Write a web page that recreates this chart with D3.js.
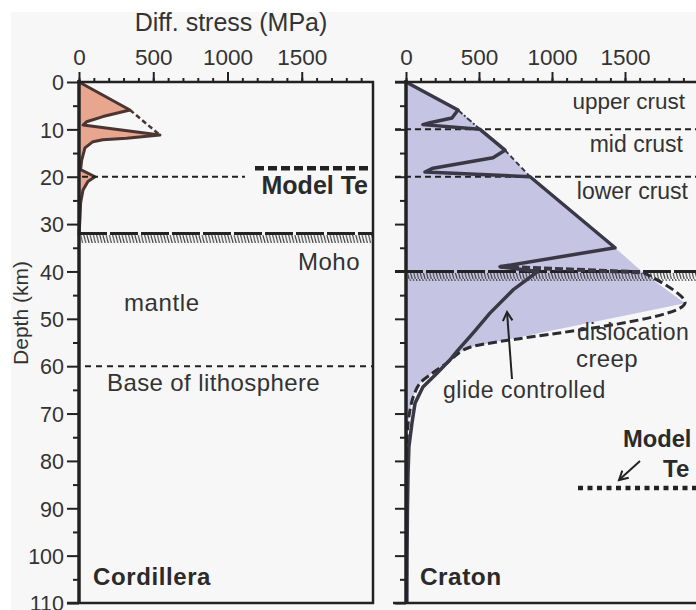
<!DOCTYPE html>
<html><head><meta charset="utf-8">
<script src="https://cdn.jsdelivr.net/npm/d3@7"></script>
<style>body{margin:0;background:#fff}svg{display:block;font-family:"Liberation Sans",Arial,sans-serif}</style>
</head><body><svg id="c" width="696" height="610"></svg>
<script>
// ---------- data ----------
const stressTicks = [0, 500, 1000, 1500];
const stressMinor = [0,100,200,300,400,500,600,700,800,900,1000,1100,1200,1300,1400,1500,1600,1700,1800,1900];
const depthTicks = [0,10,20,30,40,50,60,70,80,90,100,110];
const depthMinor = [5,15,25,35,45,55,65,75,85,95,105];

// Cordillera strength profile (MPa, km)
const cordStress = [0, 343, 161, 51, 27, 545, 320, 161, 94, 40, 18, 11, 108, 60, 27, 11, 7, 0];
const cordDepth  = [0, 5.9, 7.3, 8.4, 9.1, 11.2, 11.9, 12.2, 12.6, 13.9, 16.5, 18.5, 20.0, 21.0, 22.8, 25.5, 28.5, 32.5];
const cordEnvStress = [343, 545];
const cordEnvDepth  = [5.9, 11.2];

// Craton strength profile: solid (glide-controlled in mantle)
const cratStress = [0, 356, 315, 164, 116, 507, 678, 596, 390, 185, 130, 850, 1432, 644, 904, 733, 575, 459, 356, 300, 212, 116, 62, 41, 20, 14, 10, 7, 6];
const cratDepth  = [0, 5.9, 7.6, 8.6, 9.0, 10.0, 14.4, 16.0, 17.1, 18.2, 19.0, 20.0, 35.0, 39.0, 40.0, 43.9, 48.8, 53.0, 56.6, 58.7, 61.5, 64.4, 67.8, 72.0, 77.0, 82.6, 90, 100, 110];
// envelope continuations
const env1Stress = [356, 507];  const env1Depth = [5.9, 10.0];
const env2Stress = [678, 850];  const env2Depth = [14.4, 20.0];
const env3Stress = [644, 1623]; const env3Depth = [39.0, 40.2];
// dislocation creep envelope
const dislStress = [1623, 1911, 438, 370, 281, 180, 96, 55, 27, 12, 5];
const dislDepth  = [40.2, 46.7, 56.0, 57.0, 59.3, 61.5, 63.6, 66.0, 69.3, 73.0, 78.0];
// outer envelope of the craton fill (crust peaks)
const cratEnvStress = [0, 356, 507, 678, 850, 1432, 1623];
const cratEnvDepth  = [0, 5.9, 10.0, 14.4, 20.0, 35.0, 40.2];

// reference depths
const cordMoho = 32, cratMoho = 40, cordLith = 60, cordTe = 18.2, cratTe = 85.7;
const cordHoriz = 20, cratLayers = [10, 20];

// ---------- setup ----------
const svg = d3.select('#c');
svg.append('rect').attr('x',11).attr('y',12).attr('width',685).attr('height',598).attr('fill','#f7f7f7');

const defs = svg.append('defs');
const pat = defs.append('pattern').attr('id','hatch').attr('patternUnits','userSpaceOnUse')
  .attr('width',3.2).attr('height',9);
pat.append('line').attr('x1',0.3).attr('y1',0).attr('x2',2.6).attr('y2',9)
  .attr('stroke','#3a3a3a').attr('stroke-width',1.1);

const y = d3.scaleLinear().domain([0,110]).range([82,603]);
const xL = d3.scaleLinear().domain([0,2000]).range([79,376]);
const xR = d3.scaleLinear().domain([0,2000]).range([406,698]);

const zip = (a,b) => a.map((v,i)=>[v,b[i]]);
const lineFn = x => d3.line().x(d=>x(d[0])).y(d=>y(d[1]));

const ink = '#333';
const txt = (x0,y0,s,opt={}) => svg.append('text').attr('x',x0).attr('y',y0).text(s)
  .attr('font-size',opt.size||22).attr('font-weight',opt.bold?'bold':'normal')
  .attr('text-anchor',opt.anchor||'start').attr('fill',opt.fill||ink)
  .attr('letter-spacing',opt.ls||0);

// ---------- Cordillera panel ----------
const cordPts = zip(cordStress, cordDepth);
svg.append('path').attr('d', lineFn(xL)([...cordPts, [0, cordDepth[cordDepth.length-1]]]))
  .attr('fill','#e9a68e').attr('stroke','none');
svg.append('path').attr('d', lineFn(xL)(cordPts))
  .attr('fill','none').attr('stroke','#4a3532').attr('stroke-width',3).attr('stroke-linejoin','round');
svg.append('path').attr('d', lineFn(xL)(zip(cordEnvStress,cordEnvDepth)))
  .attr('fill','none').attr('stroke','#4a3532').attr('stroke-width',2.5).attr('stroke-dasharray','5,3');

// horizontal references
svg.append('line').attr('x1',82).attr('x2',245).attr('y1',y(cordHoriz)).attr('y2',y(cordHoriz))
  .attr('stroke','#222').attr('stroke-width',2).attr('stroke-dasharray','6,4');
svg.append('line').attr('x1',255).attr('x2',371).attr('y1',y(cordTe)).attr('y2',y(cordTe))
  .attr('stroke','#222').attr('stroke-width',4.5).attr('stroke-dasharray','9,4');
svg.append('line').attr('x1',85).attr('x2',373).attr('y1',y(cordLith)).attr('y2',y(cordLith))
  .attr('stroke','#222').attr('stroke-width',2).attr('stroke-dasharray','6,5');
// Moho
svg.append('rect').attr('x',81).attr('y',y(cordMoho)+1.5).attr('width',292).attr('height',8).attr('fill','url(#hatch)');
svg.append('line').attr('x1',79).attr('x2',373).attr('y1',y(cordMoho)).attr('y2',y(cordMoho))
  .attr('stroke','#222').attr('stroke-width',3).attr('stroke-dasharray','28,3');

// axes
const gTopL = svg.append('g').attr('transform','translate(0,82)');
gTopL.call(d3.axisTop(xL).tickValues(stressMinor).tickSize(4).tickFormat(''));
gTopL.append('g').call(d3.axisTop(xL).tickValues(stressTicks).tickSize(10).tickFormat(d3.format('d')));
const gLeft = svg.append('g').attr('transform','translate(79,0)');
gLeft.call(d3.axisLeft(y).tickValues(depthMinor).tickSize(6).tickFormat(''));
gLeft.append('g').call(d3.axisLeft(y).tickValues(depthTicks).tickSize(12).tickFormat(d3.format('d')));

// frame
svg.append('line').attr('x1',77).attr('x2',374).attr('y1',82).attr('y2',82).attr('stroke','#222').attr('stroke-width',2.5);
svg.append('line').attr('x1',373).attr('x2',373).attr('y1',81).attr('y2',604).attr('stroke','#222').attr('stroke-width',2.5);
svg.append('line').attr('x1',67).attr('x2',374).attr('y1',603).attr('y2',603).attr('stroke','#222').attr('stroke-width',2.5);
svg.append('line').attr('x1',79).attr('x2',79).attr('y1',80).attr('y2',604).attr('stroke','#222').attr('stroke-width',3.5);

// ---------- Craton panel ----------
const envPoly = [...zip(cratEnvStress,cratEnvDepth), ...zip(dislStress,dislDepth).slice(1), [0, dislDepth[dislDepth.length-1]]];
svg.append('path').attr('d', lineFn(xR)(envPoly)).attr('fill','#c5c4e2').attr('stroke','none');

// layer lines
cratLayers.forEach(d => svg.append('line').attr('x1',395).attr('x2',696).attr('y1',y(d)).attr('y2',y(d))
  .attr('stroke','#222').attr('stroke-width',2).attr('stroke-dasharray','6,4'));
// Moho
svg.append('rect').attr('x',408).attr('y',y(cratMoho)+1.5).attr('width',290).attr('height',8).attr('fill','url(#hatch)');
svg.append('line').attr('x1',395).attr('x2',696).attr('y1',y(cratMoho)).attr('y2',y(cratMoho))
  .attr('stroke','#222').attr('stroke-width',3).attr('stroke-dasharray','28,3');

const curveCol = '#3b3846';
svg.append('path').attr('d', lineFn(xR)(zip(env1Stress,env1Depth)))
  .attr('fill','none').attr('stroke',curveCol).attr('stroke-width',2).attr('stroke-dasharray','6,2,2,2');
svg.append('path').attr('d', lineFn(xR)(zip(env2Stress,env2Depth)))
  .attr('fill','none').attr('stroke',curveCol).attr('stroke-width',2).attr('stroke-dasharray','5,3');
svg.append('path').attr('d', lineFn(xR)(zip(env3Stress,env3Depth)))
  .attr('fill','none').attr('stroke',curveCol).attr('stroke-width',4).attr('stroke-dasharray','8,3');
svg.append('path').attr('d', d3.line().x(d=>xR(d[0])).y(d=>y(d[1])).curve(d3.curveCatmullRom)(zip(dislStress,dislDepth)))
  .attr('fill','none').attr('stroke','#2b2b33').attr('stroke-width',3).attr('stroke-dasharray','9,4');
svg.append('path').attr('d', lineFn(xR)(zip(cratStress,cratDepth)))
  .attr('fill','none').attr('stroke',curveCol).attr('stroke-width',3.5).attr('stroke-linejoin','round');

// Model Te (craton)
svg.append('line').attr('x1',578).attr('x2',696).attr('y1',y(cratTe)).attr('y2',y(cratTe))
  .attr('stroke','#222').attr('stroke-width',4.5).attr('stroke-dasharray','5,4.5');

// axes
const gTopR = svg.append('g').attr('transform','translate(0,82)');
gTopR.call(d3.axisTop(xR).tickValues(stressMinor).tickSize(4).tickFormat(''));
gTopR.append('g').call(d3.axisTop(xR).tickValues(stressTicks).tickSize(10).tickFormat(d3.format('d')));
const gRight = svg.append('g').attr('transform','translate(406,0)');
gRight.call(d3.axisLeft(y).tickValues(depthMinor).tickSize(6).tickFormat(''));
gRight.append('g').call(d3.axisLeft(y).tickValues(depthTicks).tickSize(11).tickFormat(''));
svg.append('line').attr('x1',395).attr('x2',696).attr('y1',82).attr('y2',82).attr('stroke','#222').attr('stroke-width',2.5);
svg.append('line').attr('x1',393).attr('x2',696).attr('y1',603).attr('y2',603).attr('stroke','#222').attr('stroke-width',2.5);
svg.append('line').attr('x1',406).attr('x2',406).attr('y1',80).attr('y2',604).attr('stroke','#222').attr('stroke-width',3.5);

// axis styling
svg.selectAll('.domain').remove();
svg.selectAll('.tick line').attr('stroke','#222').attr('stroke-width',2);
svg.selectAll('.tick text').attr('fill',ink).attr('font-family','"Liberation Sans",Arial,sans-serif');
gTopL.selectAll('.tick text').attr('font-size',22.5).attr('dy',0).attr('y',-17);
gTopR.selectAll('.tick text').attr('font-size',22.5).attr('dy',0).attr('y',-17);
gLeft.selectAll('.tick text').attr('font-size',21.5).attr('x',-15).attr('dy','0.36em');

// arrows
function arrow(x1,y1,x2,y2){
  svg.append('line').attr('x1',x1).attr('y1',y1).attr('x2',x2).attr('y2',y2).attr('stroke','#222').attr('stroke-width',2);
  const a = Math.atan2(y2-y1,x2-x1), L=10, s=0.5;
  svg.append('path').attr('d',`M${x2-L*Math.cos(a-s)},${y2-L*Math.sin(a-s)}L${x2},${y2}L${x2-L*Math.cos(a+s)},${y2-L*Math.sin(a+s)}`)
    .attr('fill','none').attr('stroke','#222').attr('stroke-width',2);
}
arrow(512,379,507,312);
arrow(640,461,619,480);

// ---------- texts ----------
txt(231,31,'Diff. stress (MPa)',{size:25,anchor:'middle'});
svg.append('text').attr('transform','translate(28,313) rotate(-90)').attr('text-anchor','middle')
  .attr('font-size',21).attr('fill',ink).text('Depth (km)');
txt(368,194,'Model Te',{size:25,bold:true,fill:'#2a2a2a',anchor:'end'});
txt(360,270,'Moho',{size:24,ls:0.5,anchor:'end'});
txt(124,311,'mantle',{size:24,ls:0.6});
txt(107,391,'Base of lithosphere',{size:24,ls:0.4});
txt(93,585,'Cordillera',{size:24,bold:true,fill:'#2a2a2a',ls:0.6});

txt(685,109,'upper crust',{size:22.5,anchor:'end'});
txt(683,152,'mid crust',{size:23,anchor:'end'});
txt(688,199,'lower crust',{size:23,anchor:'end'});
txt(577,340,'dislocation',{size:23,ls:0.3});
txt(576,367,'creep',{size:24,ls:0.4});
txt(443,398,'glide controlled',{size:23,ls:0.5});
txt(623,447,'Model',{size:23.7,bold:true,fill:'#2a2a2a'});
txt(663,477,'Te',{size:24,bold:true,fill:'#2a2a2a'});
txt(420,585,'Craton',{size:24.4,bold:true,fill:'#2a2a2a',ls:0.5});
</script></body></html>
